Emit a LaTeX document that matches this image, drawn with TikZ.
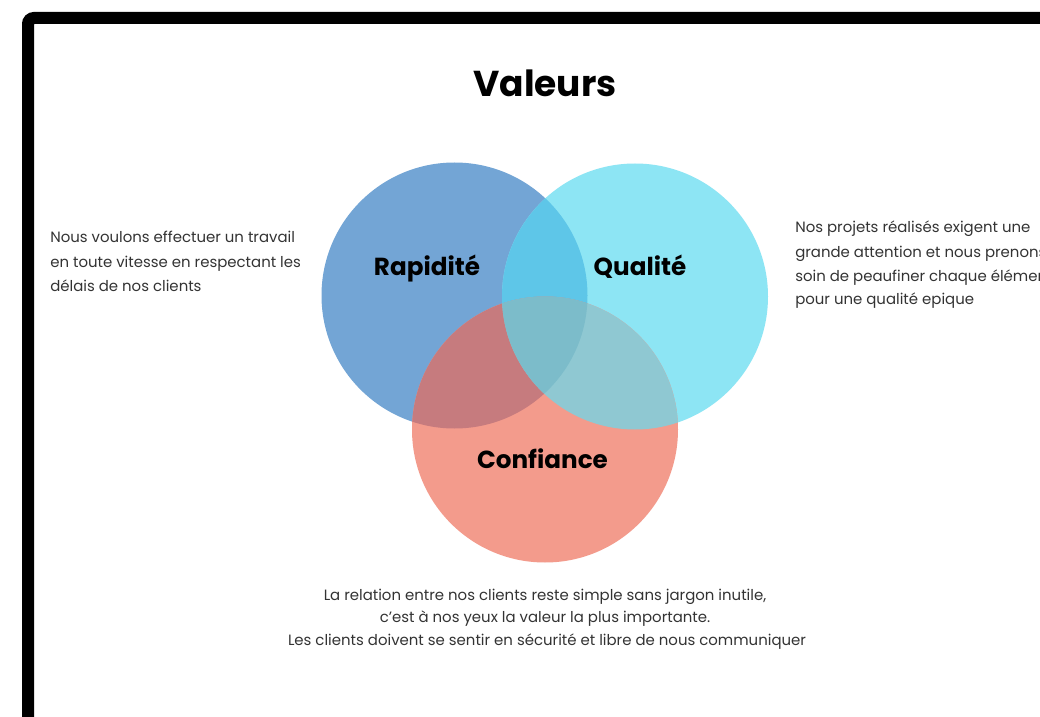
\documentclass[tikz,border=0pt]{standalone}
\usepackage{fontspec}
\setmainfont{Poppins}
\definecolor{cB}{RGB}{115,165,213}
\definecolor{cC}{RGB}{141,229,244}
\definecolor{cR}{RGB}{243,155,140}
\definecolor{cBC}{RGB}{94,198,232}
\definecolor{cBR}{RGB}{198,123,126}
\definecolor{cCR}{RGB}{143,200,210}
\definecolor{cBCR}{RGB}{124,188,202}
\definecolor{body}{RGB}{51,51,51}
\tikzset{
  bodytext/.style={inner sep=0pt, text=body, font=\fontsize{11.2pt}{13pt}\selectfont},
  label/.style={inner sep=0pt, text=black, font=\fontsize{18.5pt}{22pt}\selectfont\bfseries},
}
\begin{document}
\begin{tikzpicture}[x=0.75pt,y=-0.75pt]
\useasboundingbox (0,0) rectangle (1040,717);
\clip (0,0) rectangle (1040,717);
\fill[white] (0,0) rectangle (1040,717);
% frame
\draw[line width=9pt, rounded corners=4.5pt] (28,18) rectangle (1060,740);
% circle centres
\coordinate (B) at (454.5,295.5);
\coordinate (C) at (635,296.5);
\coordinate (R) at (545,429.5);
\def\rr{99.75pt}
\fill[cB] (B) circle[radius=\rr];
\fill[cC] (C) circle[radius=\rr];
\fill[cR] (R) circle[radius=\rr];
\begin{scope}
  \clip (B) circle[radius=\rr];
  \fill[cBC] (C) circle[radius=\rr];
  \fill[cBR] (R) circle[radius=\rr];
\end{scope}
\begin{scope}
  \clip (C) circle[radius=\rr];
  \fill[cCR] (R) circle[radius=\rr];
\end{scope}
\begin{scope}
  \clip (B) circle[radius=\rr];
  \clip (C) circle[radius=\rr];
  \fill[cBCR] (R) circle[radius=\rr];
\end{scope}
% title
\node[inner sep=0pt, anchor=base, font=\fontsize{27pt}{32pt}\selectfont\bfseries] (title) at (545,97) {Valeurs};
% circle labels
\node[label, anchor=base] (rap) at (427,275) {Rapidité};
\node[label, anchor=base] (qua) at (640,275) {Qualité};
\node[label, anchor=base] (con) at (542.5,468.5) {Confiance};
% left text
\node[bodytext, anchor=base west] (l1) at (50,243) {Nous voulons effectuer un travail};
\node[bodytext, anchor=base west] (l2) at (50,267.3) {en toute vitesse en respectant les};
\node[bodytext, anchor=base west] (l3) at (50,291.6) {délais de nos clients};
% right text
\node[bodytext, anchor=base west] (r1) at (795,233) {Nos projets réalisés exigent une};
\node[bodytext, anchor=base west] (r2) at (795,257) {grande attention et nous prenons};
\node[bodytext, anchor=base west] (r3) at (795,281) {soin de peaufiner chaque élément};
\node[bodytext, anchor=base west] (r4) at (795,304.5) {pour une qualité epique};
% bottom text
\node[bodytext, anchor=base] (b1) at (545,600) {La relation entre nos clients reste simple sans jargon inutile,};
\node[bodytext, anchor=base] (b2) at (545,622.6) {c’est à nos yeux la valeur la plus importante.};
\node[bodytext, anchor=base] (b3) at (547,645) {Les clients doivent se sentir en sécurité et libre de nous communiquer};
\end{tikzpicture}
\end{document}
